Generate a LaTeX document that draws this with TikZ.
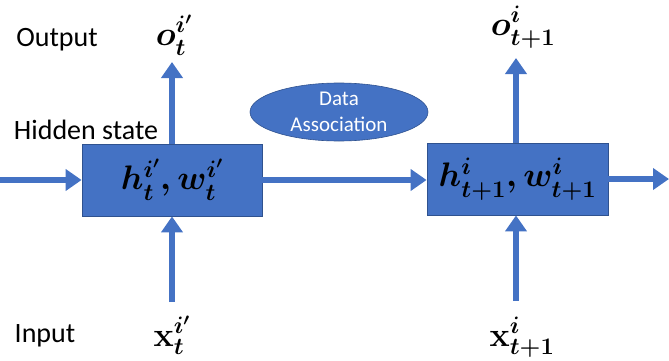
\RequirePackage{fix-cm}
\documentclass[tikz,border=0pt]{standalone}
\usepackage{amsmath,amssymb}
\usepackage[no-math]{fontspec}
\setmainfont{Carlito}
\usepackage{tikz}
\usetikzlibrary{arrows.meta,positioning,shapes.geometric}

\definecolor{cellblue}{HTML}{4472C4}
\definecolor{celledge}{HTML}{2F528F}

\begin{document}
\begin{tikzpicture}[x=1pt, y=1pt,
  cell/.style={draw=celledge, line width=0.8pt, fill=cellblue, minimum width=180pt, minimum height=72pt, inner sep=0pt, font=\fontsize{34}{36}\selectfont},
  flow/.style={draw=cellblue, line width=6pt, -{Triangle[width=21pt,length=16pt]}},
  tag/.style={anchor=base, inner sep=0pt, font=\fontsize{28}{30}\selectfont},
  var/.style={anchor=base, inner sep=0pt, font=\fontsize{34}{36}\selectfont}]
\useasboundingbox (0,0) rectangle (669,360);
\node[cell] (h1) at (172,180) {$\boldsymbol{h_t^{i'}, w_t^{i'}}$};
\node[cell, minimum width=181pt] (h2) at (517.5,181) {$\boldsymbol{h_{t+1}^{i}, w_{t+1}^{i}}$};
\node[ellipse, fill=cellblue, draw=celledge, line width=0.6pt, minimum width=178pt, minimum height=58pt, inner sep=0pt, text=white, align=center, font=\fontsize{21}{26}\selectfont] (assoc) at (339,248) {Data\\Association};
% labels
\node[tag] (lout) at (57,314) {Output};
\node[tag] (lhid) at (86,221) {Hidden state};
\node[tag] (lin) at (45,18) {Input};
\node[var] (o1) at (174,315) {$\boldsymbol{o_t^{i'}}$};
\node[var] (o2) at (523,325) {$\boldsymbol{o_{t+1}^{i}}$};
\node[var] (x1) at (172,14) {$\mathbf{x}_{\boldsymbol{t}}^{\boldsymbol{i'}}$};
\node[var] (x2) at (522,14) {$\mathbf{x}_{\boldsymbol{t+1}}^{\boldsymbol{i}}$};
% free ends
\coordinate (start) at (0,180);
\coordinate (stop) at (669,181);
\coordinate (o1tip) at (172,298);
\coordinate (o2tip) at (516,302);
\coordinate (x1foot) at (172,58);
\coordinate (x2foot) at (516,59);
% arrows
\draw[flow] (start) -- (h1.west);
\draw[flow] (h1.east) -- (h2.west |- h1.east);
\draw[flow] (h2.east) -- (stop);
\draw[flow] (h1.north) -- (o1tip);
\draw[flow] (h2.north -| o2tip) -- (o2tip);
\draw[flow] (x1foot) -- (h1.south);
\draw[flow] (x2foot) -- (h2.south -| x2foot);
\end{tikzpicture}
\end{document}
